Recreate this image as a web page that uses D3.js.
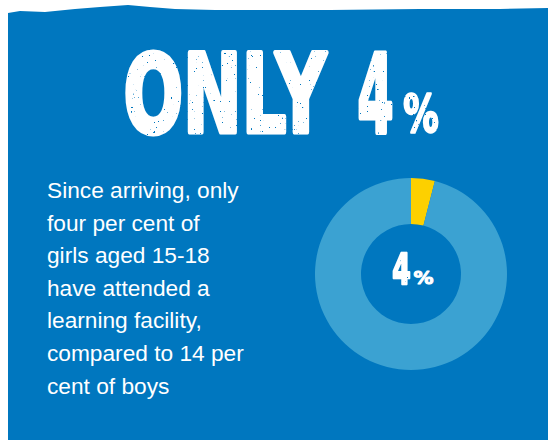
<!DOCTYPE html>
<html>
<head>
<meta charset="utf-8">
<script src="https://cdn.jsdelivr.net/npm/d3@7"></script>
<style>
  html, body { margin: 0; padding: 0; background: #fff; }
  svg { display: block; }
</style>
</head>
<body>
<div id="chart"></div>
<script>
// share of girls aged 15-18 who attended a learning facility
const sliceLabels = ['Attended', 'Did not attend'];
const sliceValues = [4, 96];
const sliceColors = ['#fdd000', '#3ba2d2'];

const headline = ['ONLY', '4', '%'];
const centreLabel = ['4', '%'];
const bodyLines = [
  'Since arriving, only',
  'four per cent of',
  'girls aged 15-18',
  'have attended a',
  'learning facility,',
  'compared to 14 per',
  'cent of boys'
];

(function() {
  const width = 548;
  const height = 440;
  const blue = '#0077bf';

  const svg = d3.select('#chart')
    .append('svg')
    .attr('width', width)
    .attr('height', height);

  // rough "grunge" texture for the big numbers
  const defs = svg.append('defs');
  const grunge = defs.append('filter')
    .attr('id', 'grunge')
    .attr('x', -0.05).attr('y', -0.05).attr('width', 1.1).attr('height', 1.1);
  grunge.append('feTurbulence')
    .attr('type', 'fractalNoise')
    .attr('baseFrequency', 0.45)
    .attr('numOctaves', 2)
    .attr('seed', 7)
    .attr('result', 'noise');
  grunge.append('feColorMatrix')
    .attr('in', 'noise')
    .attr('type', 'matrix')
    .attr('values', '0 0 0 0 1  0 0 0 0 1  0 0 0 0 1  0 0 0 -26 20.5')
    .attr('result', 'mask');
  grunge.append('feComposite')
    .attr('in', 'SourceGraphic')
    .attr('in2', 'mask')
    .attr('operator', 'in');

  // blue panel with a torn top edge
  const edge = [[8, 13], [20, 11], [45, 12], [75, 9], [100, 7], [128, 5], [150, 7], [175, 9],
    [215, 10], [260, 10], [330, 10], [420, 9], [500, 9], [548, 8]];
  const panelPath = d3.line()(edge.concat([[548, 440], [8, 440]])) + 'Z';
  svg.append('path')
    .attr('d', panelPath)
    .attr('fill', blue);

  // squeeze a bold word to a given width (condensed display look)
  function fitText(parent, txt, x, y, len, size, stroke) {
    const g = parent.append('g');
    const t = g.append('text')
      .attr('x', 0)
      .attr('y', 0)
      .attr('fill', '#fff')
      .attr('stroke', '#fff')
      .attr('stroke-width', stroke)
      .attr('stroke-linejoin', 'round')
      .style('font-family', '"DejaVu Sans", sans-serif')
      .style('font-weight', 'bold')
      .style('font-size', size + 'px')
      .text(txt);
    const b = t.node().getBBox();
    const k = (len - stroke) / b.width;
    t.attr('x', -b.x + stroke / 2 / k);
    g.attr('transform', `translate(${x}, ${y}) scale(${k}, 1)`);
    return g;
  }

  // headline
  const head = svg.append('g')
    .attr('filter', 'url(#grunge)');
  const headSpec = [
    { x: 121, len: 209, size: 108, stroke: 5 },
    { x: 355, len: 41, size: 108, stroke: 5 },
    { x: 402, len: 38, size: 51, stroke: 2.5 }
  ];
  headline.forEach((d, i) => {
    const s = headSpec[i];
    fitText(head, d, s.x, 132, s.len, s.size, s.stroke);
  });

  // body copy
  svg.append('g')
    .selectAll('text')
    .data(bodyLines)
    .enter()
    .append('text')
    .attr('x', 47)
    .attr('y', (d, i) => 198 + i * 32.6)
    .attr('fill', '#fff')
    .style('font-family', '"Liberation Sans", Arial, sans-serif')
    .style('font-size', '22.7px')
    .text(d => d);

  // donut
  const cx = 411, cy = 274;
  const pie = d3.pie().sort(null).value(d => d);
  const arc = d3.arc().innerRadius(50).outerRadius(96);

  const donut = svg.append('g')
    .attr('transform', `translate(${cx}, ${cy})`);

  donut.selectAll('path')
    .data(pie(sliceValues))
    .enter()
    .append('path')
    .attr('d', arc)
    .attr('fill', (d, i) => sliceColors[i]);

  // centre label
  const centreSpec = [
    { x: -20, len: 21, size: 43, stroke: 2.5, filter: 'url(#grunge)' },
    { x: 2, len: 21, size: 18, stroke: 1, filter: null }
  ];
  centreLabel.forEach((d, i) => {
    const s = centreSpec[i];
    const g = donut.append('g').attr('filter', s.filter);
    fitText(g, d, s.x, 10, s.len, s.size, s.stroke);
  });
})();
</script>
</body>
</html>
